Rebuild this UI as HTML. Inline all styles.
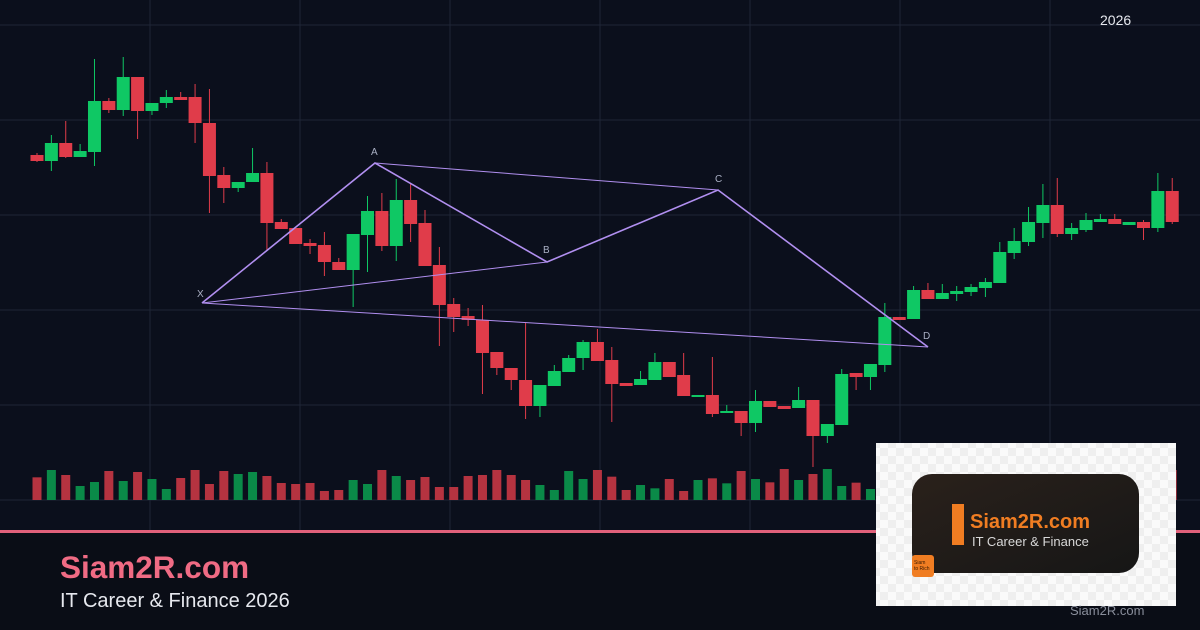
<!DOCTYPE html>
<html><head><meta charset="utf-8"><style>
html,body{margin:0;padding:0;background:#0b0f1c;width:1200px;height:630px;overflow:hidden}
svg{display:block}
</style></head><body>
<svg id="s" width="1200" height="630" xmlns="http://www.w3.org/2000/svg">
<rect width="1200" height="630" fill="#0b0f1c"/>
<g id="grid" stroke="#1f2536" stroke-width="1"></g>
<g id="vol"></g>
<g id="cdl"></g>
<g fill="none" stroke="#b18ff0">
<polyline points="202,303 375,163 547,262 718,190 928,347" stroke-width="1.6"/>
<line x1="202" y1="303" x2="547" y2="262" stroke-width="1"/>
<line x1="375" y1="163" x2="718" y2="190" stroke-width="1"/>
<line x1="202" y1="303" x2="928" y2="347" stroke-width="1"/>
</g>
<g fill="#aab0c4" font-family="Liberation Sans, sans-serif" font-size="10">
<text x="197" y="297">X</text><text x="371" y="155">A</text><text x="543" y="253">B</text><text x="715" y="182">C</text><text x="923" y="339">D</text>
</g>
<rect x="0" y="530" width="1200" height="3" fill="#e0607a"/>
<rect x="0" y="533" width="1200" height="97" fill="#0a0d16"/>
<text x="1100" y="25" fill="#e6e8ee" font-family="Liberation Sans, sans-serif" font-size="14">2026</text>
<text x="60" y="578" fill="#f06b84" font-family="Liberation Sans, sans-serif" font-size="31.5" font-weight="bold">Siam2R.com</text>
<text x="60" y="607" fill="#e6e8ee" font-family="Liberation Sans, sans-serif" font-size="20">IT Career &amp; Finance 2026</text>
<defs>
<pattern id="chk" width="16" height="16" patternUnits="userSpaceOnUse"><rect width="16" height="16" fill="#fafafa"/><rect width="8" height="8" fill="#efefef"/><rect x="8" y="8" width="8" height="8" fill="#efefef"/></pattern>
<linearGradient id="dg" x1="0" y1="0" x2="1" y2="1"><stop offset="0" stop-color="#2a211b"/><stop offset="1" stop-color="#161616"/></linearGradient>
</defs>
<rect x="876" y="443" width="300" height="163" fill="url(#chk)"/>
<rect x="912" y="474" width="227" height="99" rx="20" fill="url(#dg)"/>
<rect x="952" y="504" width="12" height="41" fill="#f07d22"/>
<text x="970" y="528" fill="#f07d22" font-family="Liberation Sans, sans-serif" font-size="20" font-weight="bold">Siam2R.com</text>
<text x="972" y="546" fill="#d8d8d8" font-family="Liberation Sans, sans-serif" font-size="13">IT Career &amp; Finance</text>
<rect x="912" y="555" width="22" height="22" rx="3" fill="#f07d22"/>
<text x="914" y="564" fill="#3a1a00" font-family="Liberation Sans, sans-serif" font-size="5">Siam</text>
<text x="914" y="570" fill="#3a1a00" font-family="Liberation Sans, sans-serif" font-size="5">to Rich</text>
<text x="1070" y="615" fill="#8a8f9c" font-family="Liberation Sans, sans-serif" font-size="13">Siam2R.com</text>
</svg>
<script>
var NS="http://www.w3.org/2000/svg";
function el(p,t,a){var e=document.createElementNS(NS,t);for(var k in a)e.setAttribute(k,a[k]);p.appendChild(e);return e;}
var g=document.getElementById('grid');
[150,300,450,600,750,900,1050].forEach(function(x){el(g,'line',{x1:x,y1:0,x2:x,y2:530});});
[25,120,215,310,405,500].forEach(function(y){el(g,'line',{x1:0,y1:y,x2:1200,y2:y});});
var C=[[155,161,153,162],[161,143,135,171],[143,157,121,158],[157,151,144,157],[152,101,59,166],[101,110,98,113],[110,77,57,116],[77,111,77,139],[111,103,103,115],[103,97,90,108],[97,100,92,100],[97,123,84,143],[123,176,89,213],[175,188,167,203],[188,182,182,192],[182,173,148,182],[173,223,162,250],[222,229,219,229],[228,244,228,244],[243,246,239,254],[245,262,232,276],[262,270,258,270],[270,234,234,307],[235,211,196,272],[211,246,193,251],[246,200,179,261],[200,224,184,242],[223,266,210,266],[265,305,247,346],[304,317,298,332],[316,320,308,326],[320,353,305,394],[352,368,352,375],[368,380,368,390],[380,406,323,419],[406,385,385,417],[386,371,365,386],[372,358,355,372],[358,342,340,370],[342,361,329,361],
[360,384,347,422],[383,386,383,386],[385,379,371,385],[380,362,353,380],[362,377,362,377],[375,396,353,396],[397,395,395,397],[395,414,357,417],[413,411,405,413],[411,423,411,436],[423,401,390,432],[401,407,401,407],[406,409,406,409],[408,400,387,408],[400,436,400,467],[436,424,424,443],[425,374,369,425],[373,377,373,390],[377,364,364,390],[365,317,303,372],[317,320,317,320],[319,290,286,319],[290,299,283,299],[299,293,284,299],[294,291,286,301],[292,287,284,296],[288,282,278,297],[283,252,242,283],[253,241,228,259],[242,222,207,246],[223,205,184,238],[205,234,178,237],[234,228,223,240],[230,220,213,232],[222,219,214,222],[219,224,214,224],[225,222,222,225],[222,228,220,240],[228,191,173,232],[191,222,178,224]];
var V=[1312,1290,1305,1338,1326,1293,1323,1296,1317,1347,1314,1290,1332,1293,1302,1296,1308,1329,1332,1329,1353,1350,1320,1332,1290,1308,1320,1311,1341,1341,1308,1305,1290,1305,1320,1335,1350,1293,1317].map(function(z){return 40+z/3;});
[930,950,990,975,985,957,993,960,955,970,933,957,967,927,960,942,927,978,968,987].forEach(function(z){V.push(160+z/3);});
while(V.length<79)V.push(470+ (V.length%3)*8);
V.push(470);
var vg=document.getElementById('vol'),cg=document.getElementById('cdl');
C.forEach(function(c,i){
 var x=37+i*14.37,up=c[1]<c[0];
 var col=up?'#0fc864':'#e03c4a',vcol=up?'#0a8a48':'#b53340';
 el(vg,'rect',{x:x-4.5,y:V[i],width:9,height:500-V[i],fill:vcol});
 el(cg,'line',{x1:x,y1:c[2],x2:x,y2:c[3],stroke:col,'stroke-width':1});
 var t=Math.min(c[0],c[1]),h=Math.max(2,Math.abs(c[1]-c[0]));
 el(cg,'rect',{x:x-6.5,y:t,width:13,height:h,fill:col});
});
</script>
</body></html>
